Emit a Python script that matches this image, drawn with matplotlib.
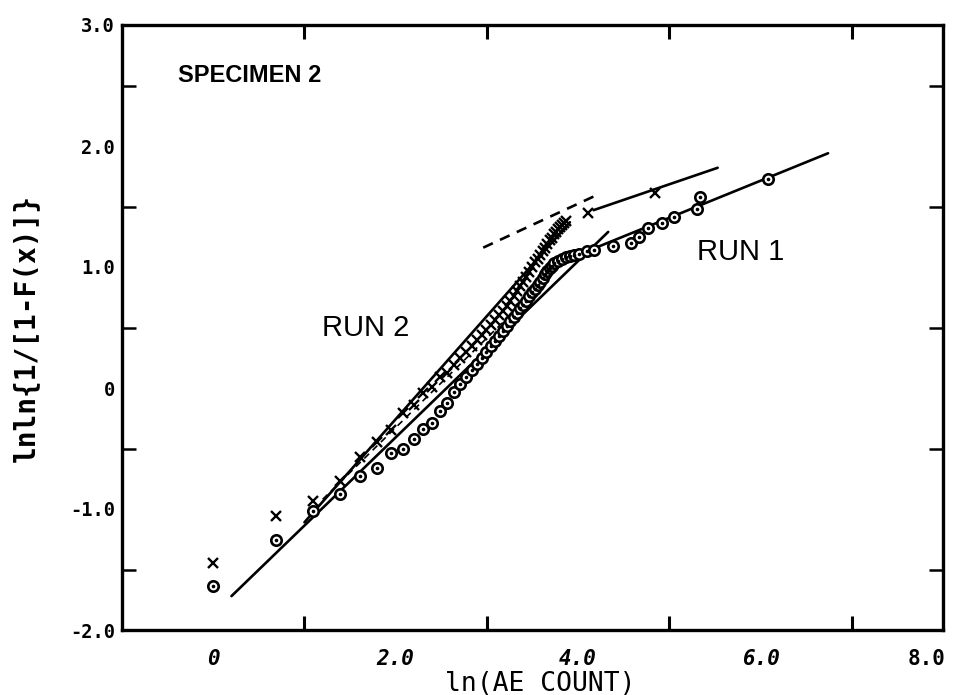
import numpy as np
import matplotlib
matplotlib.use("Agg")
import matplotlib.pyplot as plt
import matplotlib.transforms as mtransforms

# ---- data (x = ln of AE count) ----
run1_counts = [1, 2, 3, 4, 5, 6, 7, 8, 9, 10, 11, 12, 13, 14,
               15, 16, 17, 18, 19, 20, 21, 22, 23, 24, 25, 26, 27, 28, 29, 30,
               31, 32, 33, 34, 35, 36, 37, 38, 39, 40, 41, 42, 44, 46, 48, 50,
               52, 55, 60, 65, 80, 98, 107, 118, 137, 157, 200, 207, 437]
run1_y = [-1.64, -1.26, -1.02, -0.88, -0.73, -0.66, -0.54, -0.50, -0.42, -0.34,
          -0.29, -0.19, -0.12, -0.03,
          0.03, 0.09, 0.15, 0.20, 0.25, 0.30, 0.35, 0.39, 0.43, 0.47, 0.51, 0.55,
          0.59, 0.62, 0.66, 0.69, 0.72, 0.76, 0.79, 0.82, 0.85, 0.88, 0.91, 0.94,
          0.97, 0.99, 1.01, 1.03, 1.05, 1.07, 1.08, 1.09, 1.10, 1.11, 1.13, 1.14,
          1.17, 1.20, 1.25, 1.32, 1.36, 1.41, 1.48, 1.58, 1.73]

run2_counts = [1, 2, 3, 4, 5, 6, 7, 8, 9, 10, 11, 12, 13, 14,
               15, 16, 17, 18, 19, 20, 21, 22, 23, 24, 25, 26, 27, 28, 29, 30,
               31, 32, 33, 34, 35, 36, 37, 38, 39, 40, 41, 42, 43, 44, 45, 46,
               47, 48, 61, 127]
run2_y = [-1.45, -1.06, -0.93, -0.77, -0.57, -0.45, -0.35, -0.21, -0.14, -0.04,
          0.01, 0.09, 0.12, 0.19,
          0.25, 0.30, 0.35, 0.40, 0.44, 0.48, 0.52, 0.56, 0.60, 0.64, 0.68, 0.72,
          0.76, 0.80, 0.84, 0.88, 0.92, 0.96, 1.00, 1.04, 1.07, 1.10, 1.13, 1.16,
          1.19, 1.22, 1.24, 1.27, 1.29, 1.31, 1.33, 1.35, 1.36, 1.38, 1.45, 1.61]

# fitted lines (endpoints)
run1_fit_a_x = [0.2, 4.33]
run1_fit_a_y = [-1.72, 1.29]
run1_fit_b_x = [4.0, 6.74]
run1_fit_b_y = [1.10, 1.94]
run2_fit_a_x = [1.0, 3.91]
run2_fit_a_y = [-1.11, 1.37]
run2_fit_b_x = [4.17, 5.53]
run2_fit_b_y = [1.47, 1.82]
run2_dash_x = [2.96, 4.22]
run2_dash_y = [1.16, 1.60]
mid_dash_x = [1.2, 3.9]
mid_dash_y = [-0.92, 1.08]

xticks = [0, 2, 4, 6, 8]
xticklabels = ["0", "2.0", "4.0", "6.0", "8.0"]
yticks = [-2, -1, 0, 1, 2, 3]
yticklabels = ["-2.0", "-1.0", "0", "1.0", "2.0", "3.0"]

fig = plt.figure(figsize=(9.55, 6.95), dpi=100)
ax = fig.add_axes([122/955, 1-630/695, (943-122)/955, (630-25)/695])
ax.set_xlim(-1, 8)
ax.set_ylim(-2, 3)

lw = 1.9
ax.plot(run1_fit_a_x, run1_fit_a_y, color="black", lw=lw, solid_capstyle="round")
ax.plot(run1_fit_b_x, run1_fit_b_y, color="black", lw=lw, solid_capstyle="round")
ax.plot(run2_fit_a_x, run2_fit_a_y, color="black", lw=lw, solid_capstyle="round")
ax.plot(run2_fit_b_x, run2_fit_b_y, color="black", lw=lw, solid_capstyle="round")
ax.plot(run2_dash_x, run2_dash_y, color="black", lw=lw, ls=(0, (4, 3)))
ax.plot(mid_dash_x, mid_dash_y, color="black", lw=1.2, ls=(0, (4, 3)))

x1 = np.log(np.array(run1_counts, dtype=float))
x2 = np.log(np.array(run2_counts, dtype=float))
ax.plot(x1, run1_y, ls="none", marker="o", ms=7.5, mfc="white", mec="black", mew=1.9)
ax.plot(x1, run1_y, ls="none", marker="o", ms=1.6, mfc="black", mec="black")
ax.plot(x2, run2_y, ls="none", marker="x", ms=7.5, mec="black", mew=1.7)

# spines and ticks
for s in ax.spines.values():
    s.set_linewidth(2.4)
ax.set_xticks(xticks)
ax.set_xticklabels(xticklabels)
ax.set_yticks(yticks)
ax.set_yticklabels(yticklabels)
ax.set_xticks(np.arange(0, 8, 1), minor=True)
ax.set_yticks(np.arange(-2, 3.01, 0.5), minor=True)
ax.tick_params(axis="both", which="both", direction="in", top=True, right=True)
ax.tick_params(axis="x", which="major", length=0, pad=14)
ax.tick_params(axis="x", which="minor", length=10, width=2.2)
ax.tick_params(axis="y", which="major", length=0, pad=5)
ax.tick_params(axis="y", which="minor", length=10, width=1.8)

for lab in ax.get_xticklabels():
    lab.set_fontfamily("DejaVu Sans Mono")
    lab.set_fontweight("bold")
    lab.set_fontsize(15)
    if lab.get_text() != "8.0":
        lab.set_fontstyle("italic")
    else:
        lab.set_transform(lab.get_transform() +
                          mtransforms.ScaledTranslation(-16/100, 0, fig.dpi_scale_trans))
for lab in ax.get_yticklabels():
    lab.set_fontfamily("DejaVu Sans Mono")
    lab.set_fontweight("bold")
    lab.set_fontsize(13.5)

ax.set_ylabel("lnln{1/[1-F(x)]}", fontfamily="DejaVu Sans Mono", fontweight="bold",
              fontsize=20, labelpad=22)
ax.set_xlabel("ln(AE COUNT)", fontfamily="DejaVu Sans Mono", fontsize=19)
ax.xaxis.set_label_coords(0.51, -0.067)

ax.text(0.068, 0.917, "SPECIMEN 2", transform=ax.transAxes, fontfamily="Liberation Sans",
        fontweight="bold", fontsize=17, ha="left", va="center")
ax.text(1.19, 0.50, "RUN 2", fontfamily="Liberation Sans", fontsize=21, ha="left", va="center")
ax.text(5.30, 1.12, "RUN 1", fontfamily="Liberation Sans", fontsize=21, ha="left", va="center")

fig.savefig("out.png", dpi=100)
